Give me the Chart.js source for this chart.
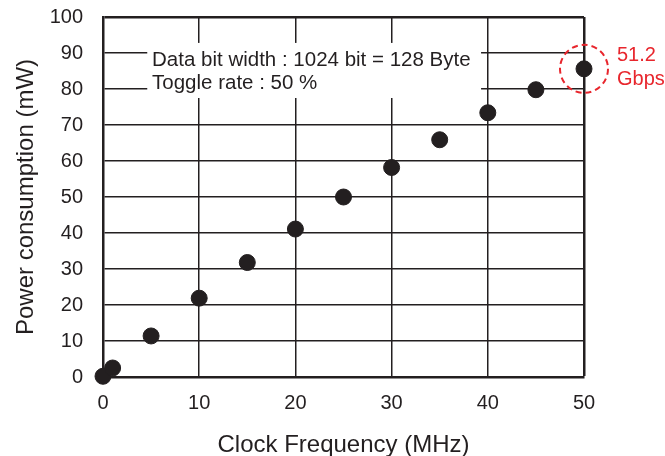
<!DOCTYPE html>
<html>
<head>
<meta charset="utf-8">
<script src="https://cdn.jsdelivr.net/npm/chart.js@4"></script>
<style>
  body { margin: 0; background: #fff; }
</style>
</head>
<body>
<canvas id="chart" width="665" height="456"></canvas>
<script>
// values
var freqMHz = [0, 1, 5, 10, 15, 20, 25, 30, 35, 40, 45, 50];
var powerMW = [0.2, 2.5, 11.4, 21.9, 31.8, 41.1, 50.0, 58.2, 65.9, 73.4, 79.8, 85.6];
var noteLines = ["Data bit width : 1024 bit = 128 Byte", "Toggle rate : 50 %"];
var peakLabel = ["51.2", "Gbps"];

var ink = "#231f20";
var red = "#e8262d";
var font = "'Liberation Sans', Arial, sans-serif";

var points = freqMHz.map(function (f, i) {
  return { x: f, y: powerMW[i] };
});

var notes = {
  id: "notes",
  beforeDatasetsDraw: function (chart) {
    var ctx = chart.ctx;
    var xs = chart.scales.x, ys = chart.scales.y;
    // white box over the grid behind the note text
    var l = xs.getPixelForValue(4.6), r = xs.getPixelForValue(39.3);
    var t = ys.getPixelForValue(92.8), b = ys.getPixelForValue(77.5);
    ctx.save();
    ctx.fillStyle = "#fff";
    ctx.fillRect(l, t, r - l, b - t);
    ctx.fillStyle = ink;
    ctx.font = "20.5px " + font;
    ctx.textBaseline = "middle";
    ctx.textAlign = "left";
    ctx.fillText(noteLines[0], xs.getPixelForValue(5.1), ys.getPixelForValue(87.9));
    ctx.fillText(noteLines[1], xs.getPixelForValue(5.1), ys.getPixelForValue(81.7));
    ctx.restore();
  },
  afterDatasetsDraw: function (chart) {
    var ctx = chart.ctx;
    var last = chart.getDatasetMeta(0).data[freqMHz.length - 1];
    ctx.save();
    ctx.strokeStyle = red;
    ctx.lineWidth = 2;
    ctx.setLineDash([6, 4]);
    ctx.beginPath();
    ctx.arc(last.x, last.y, 24, 0, Math.PI * 2);
    ctx.stroke();
    ctx.fillStyle = red;
    ctx.font = "20px " + font;
    ctx.textBaseline = "middle";
    ctx.textAlign = "left";
    ctx.fillText(peakLabel[0], last.x + 33, last.y - 13);
    ctx.fillText(peakLabel[1], last.x + 33, last.y + 11);
    ctx.restore();
  }
};

var ctx = document.getElementById("chart").getContext("2d");
var myChart = new Chart(ctx, {
  type: "scatter",
  data: {
    datasets: [
      {
        data: points,
        backgroundColor: ink,
        borderColor: ink,
        pointRadius: 8,
        pointHoverRadius: 8,
        clip: false
      }
    ]
  },
  options: {
    responsive: false,
    animation: false,
    layout: { padding: { left: 0, right: 81, top: 17, bottom: 0 } },
    plugins: {
      legend: { display: false },
      tooltip: { enabled: false }
    },
    scales: {
      x: {
        type: "linear",
        min: 0,
        max: 50,
        afterFit: function (s) { s.height = 79; },
        ticks: { stepSize: 10, color: ink, font: { family: font, size: 20 }, padding: 14 },
        grid: {
          color: ink,
          drawTicks: false,
          lineWidth: function (c) { return c.tick && c.tick.value === 50 ? 2.5 : 1.5; }
        },
        border: { color: ink, width: 2.5 },
        title: {
          display: true,
          text: "Clock Frequency (MHz)",
          color: ink,
          font: { family: font, size: 24 },
          padding: { top: 14, bottom: -4 }
        }
      },
      y: {
        min: 0,
        max: 100,
        afterFit: function (s) {
          s.width = 103;
          s.paddingTop = 10;
          s.paddingBottom = 10;
        },
        ticks: { stepSize: 10, color: ink, font: { family: font, size: 20 }, padding: 20 },
        grid: {
          color: ink,
          drawTicks: false,
          lineWidth: function (c) { return c.tick && c.tick.value === 100 ? 2.5 : 1.5; }
        },
        border: { color: ink, width: 2.5 },
        title: {
          display: true,
          text: "Power consumption (mW)",
          color: ink,
          font: { family: font, size: 24 },
          padding: { top: 12 }
        }
      }
    }
  },
  plugins: [notes]
});
</script>
</body>
</html>
